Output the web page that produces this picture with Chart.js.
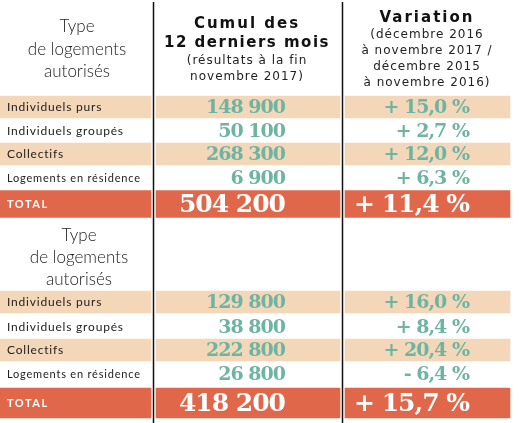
<!DOCTYPE html>
<html>
<head>
<meta charset="utf-8">
<script src="https://cdn.jsdelivr.net/npm/chart.js@4"></script>
<style>
  body { margin: 0; background: #fff; }
  #wrap { width: 519px; height: 423px; }
</style>
</head>
<body>
<div id="wrap"><canvas id="tbl"></canvas></div>
<script>
// données
const types = ['Individuels purs', 'Individuels groupés', 'Collectifs', 'Logements en résidence'];
const cumul2017 = ['148 900', '50 100', '268 300', '6 900'];
const variation2017 = ['+ 15,0 %', '+ 2,7 %', '+ 12,0 %', '+ 6,3 %'];
const total2017 = ['504 200', '+ 11,4 %'];
const cumul2016 = ['129 800', '38 800', '222 800', '26 800'];
const variation2016 = ['+ 16,0 %', '+ 8,4 %', '+ 20,4 %', '- 6,4 %'];
const total2016 = ['418 200', '+ 15,7 %'];

// mise en page (en unités d'axe = pixels)
const cols = [[0, 151], [156, 340], [345, 510]];
const rowsTop = [107, 131, 154, 178];
const totalTop = 204;
const rowsBottom = [302, 327, 350, 374];
const totalBottom = 403;

const BEIGE = '#f4d7b8', ORANGE = '#e0674a', TEAL = '#6db4a3';

function bands(ys) {
  const out = [];
  ys.forEach(y => cols.forEach(c => out.push({ x: c, y: y })));
  return out;
}

const textPlugin = {
  id: 'texts',
  beforeDatasetsDraw(chart) {
    const { ctx, scales: { x, y } } = chart;
    ctx.save();
    ctx.strokeStyle = '#111';
    ctx.lineWidth = 1.5;
    [153.5, 342.5].forEach(v => {
      ctx.beginPath();
      ctx.moveTo(x.getPixelForValue(v), y.getPixelForValue(2));
      ctx.lineTo(x.getPixelForValue(v), y.getPixelForValue(423));
      ctx.stroke();
    });
    ctx.restore();
  },
  afterDatasetsDraw(chart) {
    const { ctx, scales: { x, y } } = chart;
    const txt = (s, vx, vy, font, color, align, ls) => {
      ctx.font = font;
      ctx.fillStyle = color;
      ctx.textAlign = align;
      ctx.textBaseline = 'middle';
      ctx.letterSpacing = ls || '0px';
      ctx.fillText(s, x.getPixelForValue(vx), y.getPixelForValue(vy));
    };
    ctx.save();
    const light = '300 17px Lato';
    // en-têtes
    [['Type', 27], ['de logements', 50], ['autorisés', 72]].forEach(([s, v]) => txt(s, 77, v, light, '#222', 'center'));
    [['Type', 236], ['de logements', 258], ['autorisés', 280]].forEach(([s, v]) => txt(s, 79, v, light, '#222', 'center'));
    txt('Cumul des', 247, 24, 'bold 15px "DejaVu Sans"', '#111', 'center', '2px');
    txt('12 derniers mois', 247, 43, 'bold 15px "DejaVu Sans"', '#111', 'center', '1.5px');
    txt('(résultats à la fin', 247, 61, '12px "DejaVu Sans"', '#222', 'center', '1px');
    txt('novembre 2017)', 247, 77, '12px "DejaVu Sans"', '#222', 'center', '1px');
    txt('Variation', 427, 18, 'bold 15px "DejaVu Sans"', '#111', 'center', '2px');
    [['(décembre 2016', 35], ['à novembre 2017 /', 51], ['décembre 2015', 67], ['à novembre 2016)', 83]]
      .forEach(([s, v]) => txt(s, 427, v, '12px "DejaVu Sans"', '#222', 'center', '1px'));

    const numFont = 'bold 19px "DejaVu Serif"';
    const block = (ys, cum, vari, tot, ty) => {
      ys.forEach((v, i) => {
        txt(types[i], 7, v, (i === 3 ? '11px' : '12px') + ' Lato', '#222', 'left', '0.8px');
        txt(cum[i], 285, v + 1, numFont, TEAL, 'right', '-1px');
        txt(vari[i], 469, v + 1, numFont, TEAL, 'right', '-1px');
      });
      txt('TOTAL', 7, ty, 'bold 11px Lato', '#fff', 'left', '1.5px');
      txt(tot[0], 285, ty + 1, 'bold 25px "DejaVu Serif"', '#fff', 'right', '-1px');
      txt(tot[1], 469, ty + 1, 'bold 25px "DejaVu Serif"', '#fff', 'right', '-1px');
    };
    block(rowsTop, cumul2017, variation2017, total2017, totalTop);
    block(rowsBottom, cumul2016, variation2016, total2016, totalBottom);
    ctx.restore();
  }
};

new Chart(document.getElementById('tbl'), {
  type: 'bar',
  data: {
    datasets: [
      { data: bands([rowsTop[0], rowsTop[2], rowsBottom[0], rowsBottom[2]]), backgroundColor: BEIGE, barThickness: 22 },
      { data: bands([totalTop]), backgroundColor: ORANGE, barThickness: 27 },
      { data: bands([totalBottom]), backgroundColor: ORANGE, barThickness: 30 }
    ]
  },
  options: {
    indexAxis: 'y',
    responsive: true,
    maintainAspectRatio: false,
    animation: false,
    layout: { padding: 0 },
    plugins: { legend: { display: false }, tooltip: { enabled: false } },
    scales: {
      x: { type: 'linear', min: 0, max: 519, display: false },
      y: { type: 'linear', min: 0, max: 423, reverse: true, display: false, offset: false }
    },
    datasets: { bar: { grouped: false } }
  },
  plugins: [textPlugin]
});
</script>
</body>
</html>
